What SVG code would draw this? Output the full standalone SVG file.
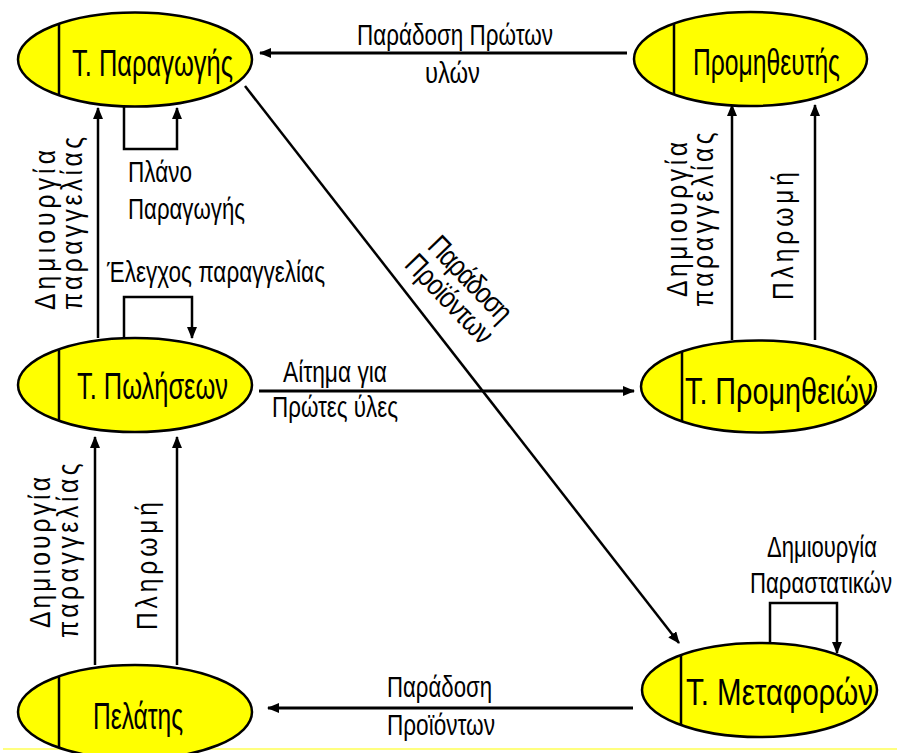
<svg xmlns="http://www.w3.org/2000/svg" width="897" height="753" viewBox="0 0 897 753">
  <style>
    .node ellipse { fill: #ffff00; stroke: #000; stroke-width: 2.5; }
    .node line { stroke: #000; stroke-width: 2.5; }
    .node text { font-size: 36px; }
    text { font-family: "Liberation Sans Narrow", "Liberation Sans", Arial, sans-serif; fill: #000; }
    .lbl { font-size: 30px; }
    .conn { fill: none; stroke: #000; stroke-width: 2.5; marker-end: url(#arrow); }
    .thick { stroke-width: 3; }
  </style>
  <defs>
    <marker id="arrow" viewBox="0 0 12 10" refX="11" refY="5" markerWidth="12" markerHeight="10" orient="auto" markerUnits="userSpaceOnUse">
      <path d="M0,0 L12,5 L0,10 z" fill="#000"/>
    </marker>
  </defs>

  <rect width="897" height="753" fill="#fff"/>
  <line x1="3" y1="749" x2="897" y2="749" stroke="#ffff55" stroke-width="1.5"/>

  <!-- connectors -->
  <g id="connectors">
    <path class="conn thick" d="M627,53 L260,53"/>
    <path class="conn" d="M245,86 L679,643"/>
    <path class="conn thick" d="M259,391 L634,391"/>
    <path class="conn thick" d="M633,708 L268,708"/>
    <path class="conn" d="M98,338 L98,108"/>
    <path class="conn" d="M124,106 L124,149 L177,149 L177,108"/>
    <path class="conn" d="M124,338 L124,297 L192,297 L192,338"/>
    <path class="conn" d="M95,665 L95,437"/>
    <path class="conn" d="M177,665 L177,437"/>
    <path class="conn" d="M732,340 L732,105"/>
    <path class="conn" d="M815,340 L815,105"/>
    <path class="conn" d="M770,643 L770,603 L837,603 L837,653"/>
  </g>

  <!-- connector labels -->
  <g id="labels">
    <text class="lbl" x="357" y="45" textLength="196" lengthAdjust="spacingAndGlyphs">Παράδοση Πρώτων</text>
    <text class="lbl" x="425" y="83" textLength="55" lengthAdjust="spacingAndGlyphs">υλών</text>
    <text class="lbl" x="128" y="182" font-size="29" textLength="64" lengthAdjust="spacingAndGlyphs">Πλάνο</text>
    <text class="lbl" x="128" y="219" font-size="29" textLength="117" lengthAdjust="spacingAndGlyphs">Παραγωγής</text>
    <text class="lbl" x="107" y="282" textLength="218" lengthAdjust="spacingAndGlyphs">Έλεγχος παραγγελίας</text>
    <text class="lbl" x="283" y="382" textLength="104" lengthAdjust="spacingAndGlyphs">Αίτημα για</text>
    <text class="lbl" x="272" y="417" textLength="126" lengthAdjust="spacingAndGlyphs">Πρώτες ύλες</text>
    <text class="lbl" x="387" y="697" textLength="105" lengthAdjust="spacingAndGlyphs">Παράδοση</text>
    <text class="lbl" x="387" y="735" textLength="108" lengthAdjust="spacingAndGlyphs">Προϊόντων</text>
    <text class="lbl" x="767" y="557" textLength="110" lengthAdjust="spacingAndGlyphs">Δημιουργία</text>
    <text class="lbl" x="750" y="593" textLength="142" lengthAdjust="spacingAndGlyphs">Παραστατικών</text>

    <!-- diagonal label -->
    <g transform="translate(461,288) rotate(46)">
      <text class="lbl" x="0" y="-3" text-anchor="middle" transform="scale(0.82,1)" textLength="130" lengthAdjust="spacing">Παράδοση</text>
      <text class="lbl" x="0" y="26" text-anchor="middle" transform="scale(0.82,1)" textLength="137" lengthAdjust="spacing">Προϊόντων</text>
    </g>

    <!-- vertical labels -->
    <text class="lbl" font-size="31" transform="translate(55,310) rotate(-90) scale(0.82,1)" textLength="195" lengthAdjust="spacing">Δημιουργία</text>
    <text class="lbl" font-size="31" transform="translate(82,310) rotate(-90) scale(0.82,1)" textLength="211" lengthAdjust="spacing">παραγγελίας</text>
    <text class="lbl" font-size="31" transform="translate(50,628) rotate(-90) scale(0.82,1)" textLength="184" lengthAdjust="spacing">Δημιουργία</text>
    <text class="lbl" font-size="31" transform="translate(78,638) rotate(-90) scale(0.82,1)" textLength="213" lengthAdjust="spacing">παραγγελίας</text>
    <text class="lbl" font-size="31" transform="translate(157,630) rotate(-90) scale(0.82,1)" textLength="156" lengthAdjust="spacing">Πληρωμή</text>
    <text class="lbl" font-size="31" transform="translate(687,297) rotate(-90) scale(0.82,1)" textLength="189" lengthAdjust="spacing">Δημιουργία</text>
    <text class="lbl" font-size="31" transform="translate(713,307) rotate(-90) scale(0.82,1)" textLength="213" lengthAdjust="spacing">παραγγελίας</text>
    <text class="lbl" font-size="31" transform="translate(793,300) rotate(-90) scale(0.82,1)" textLength="156" lengthAdjust="spacing">Πληρωμή</text>
  </g>

  <!-- nodes -->
  <g id="node-paragogis" class="node">
    <ellipse cx="135" cy="59.5" rx="117" ry="47"/>
    <line x1="59" y1="23.8" x2="59" y2="95.2"/>
    <text x="72" y="76" textLength="161" lengthAdjust="spacingAndGlyphs">Τ. Παραγωγής</text>
  </g>
  <g id="node-promitheftis" class="node">
    <ellipse cx="750.5" cy="59" rx="116.5" ry="47"/>
    <line x1="674" y1="23.5" x2="674" y2="94.5"/>
    <text x="693" y="75" textLength="147" lengthAdjust="spacingAndGlyphs">Προμηθευτής</text>
  </g>
  <g id="node-poliseon" class="node">
    <ellipse cx="135" cy="385" rx="117" ry="47"/>
    <line x1="59" y1="349.3" x2="59" y2="420.7"/>
    <text x="77" y="399" textLength="151" lengthAdjust="spacingAndGlyphs">Τ. Πωλήσεων</text>
  </g>
  <g id="node-promitheion" class="node">
    <ellipse cx="758.5" cy="386.5" rx="117.5" ry="46"/>
    <line x1="682" y1="351.6" x2="682" y2="421.4"/>
    <text x="685" y="404" font-size="34" textLength="188" lengthAdjust="spacingAndGlyphs">Τ. Προμηθειών</text>
  </g>
  <g id="node-metaforon" class="node">
    <ellipse cx="759.5" cy="690" rx="117.5" ry="47"/>
    <line x1="681" y1="655" x2="681" y2="725"/>
    <text x="686" y="705" font-size="35" textLength="187" lengthAdjust="spacingAndGlyphs">Τ. Μεταφορών</text>
  </g>
  <g id="node-pelatis" class="node">
    <ellipse cx="135" cy="712" rx="117" ry="47"/>
    <line x1="59" y1="676.3" x2="59" y2="747.7"/>
    <text x="93" y="729" textLength="90" lengthAdjust="spacingAndGlyphs">Πελάτης</text>
  </g>
</svg>
